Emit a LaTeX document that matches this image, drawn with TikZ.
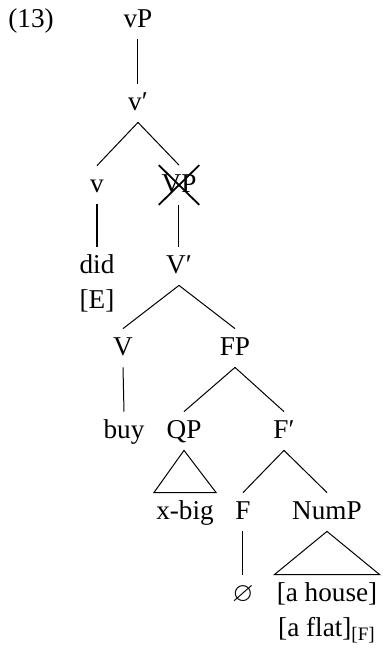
\documentclass[tikz,border=0pt]{standalone}
\usepackage{amsmath, amssymb}
\usepackage{fontspec}
\setmainfont{Liberation Serif}
\usetikzlibrary{shapes.misc}

\begin{document}
\begin{tikzpicture}[
    x=0.5pt, y=-0.5pt,
    lbl/.style={anchor=base, font=\fontsize{13.6}{16}\selectfont,
                text height=10pt, text depth=3pt, inner ysep=3pt, inner xsep=1pt},
    txt/.style={anchor=base, font=\fontsize{13.6}{16}\selectfont, inner sep=0pt},
    edge/.style={line width=0.5pt},
    gone/.style={cross out, draw, line width=0.9pt},
]
\useasboundingbox (0,0) rectangle (383,650);
\node[txt, anchor=base west] (num) at (8,27) {(13)};

\node[lbl] (vP)    at (138,27)  {vP};
\node[lbl] (vbar)  at (138,110) {v′};
\node[lbl] (v)     at (97,192)  {v};
\node[lbl, gone] (VP) at (179,192) {VP};
\node[lbl] (did)   at (97,273)  {did};
\node[txt] (E)     at (97,308)  {[E]};
\node[lbl] (Vbar)  at (179,273) {V′};
\node[lbl] (V)     at (123,355) {V};
\node[lbl] (FP)    at (235,355) {FP};
\node[lbl] (buy)   at (124,438) {buy};
\node[lbl] (QP)    at (184,438) {QP};
\node[lbl] (Fbar)  at (284,438) {F′};
\node[lbl] (xbig)  at (185,519) {x-big};
\node[lbl] (F)     at (243,519) {F};
\node[lbl] (NumP)  at (327,519) {NumP};
\node[lbl] (empty) at (243,601) {$\varnothing$};
\node[lbl] (house) at (327,601) {[a house]};
\node[txt] (flat)  at (327,636) {[a flat]$_{\text{[F]}}$};

\draw[edge] (vP.south) -- (vbar.north);
\draw[edge] (vbar.south) -- (v.north);
\draw[edge] (vbar.south) -- (VP.north);
\draw[edge] (v.south) -- (did.north);
\draw[edge] (VP.south) -- (Vbar.north);
\draw[edge] (Vbar.south) -- (V.north);
\draw[edge] (Vbar.south) -- (FP.north);
\draw[edge] (V.south) -- (buy.north);
\draw[edge] (FP.south) -- (QP.north);
\draw[edge] (FP.south) -- (Fbar.north);
\draw[edge] (Fbar.south) -- (F.north);
\draw[edge] (Fbar.south) -- (NumP.north);
\draw[edge] (F.south) -- (empty.north);
% triangles
\draw[edge] (QP.south) -- (xbig.north west) -- (xbig.north east) -- cycle;
\draw[edge] (NumP.south) -- (house.north west) -- (house.north east) -- cycle;
\end{tikzpicture}
\end{document}
